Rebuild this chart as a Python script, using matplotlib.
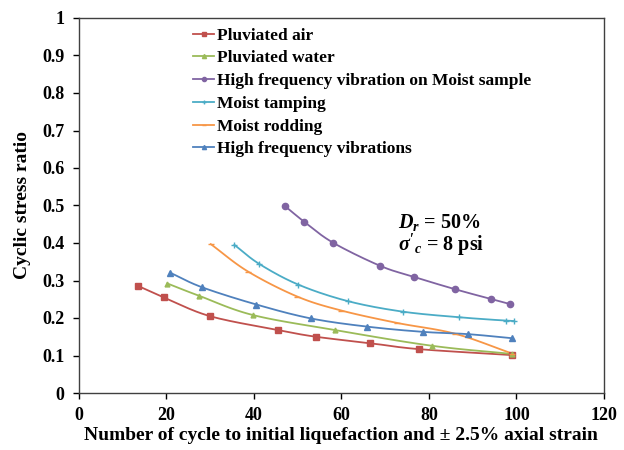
import numpy as np
import matplotlib
matplotlib.use("Agg")
import matplotlib.pyplot as plt

plt.rcParams['font.family'] = ['Liberation Serif', 'DejaVu Serif']
plt.rcParams['font.weight'] = 'bold'
plt.rcParams['mathtext.fontset'] = 'custom'
plt.rcParams['mathtext.rm'] = 'Liberation Serif:bold'
plt.rcParams['mathtext.it'] = 'Liberation Serif:italic:bold'
plt.rcParams['mathtext.bf'] = 'Liberation Serif:bold'

# ---- data ----
air_n = [13.7, 19.5, 30.0, 45.5, 54.2, 66.5, 77.7, 99.1]
air_csr = [0.285, 0.255, 0.205, 0.168, 0.150, 0.133, 0.117, 0.101]

water_n = [20.3, 27.6, 39.8, 58.5, 80.7, 99.1]
water_csr = [0.292, 0.259, 0.208, 0.168, 0.126, 0.104]

hfm_n = [47.1, 51.5, 58.1, 68.9, 76.5, 85.9, 94.1, 98.6]
hfm_csr = [0.499, 0.457, 0.401, 0.339, 0.310, 0.277, 0.251, 0.237]

tamp_n = [35.6, 41.3, 50.2, 61.5, 74.0, 86.9, 97.6, 99.5]
tamp_csr = [0.395, 0.344, 0.289, 0.245, 0.217, 0.202, 0.193, 0.192]

rod_n = [30.2, 38.7, 50.0, 60.0, 72.7, 86.0, 99.1]
rod_csr = [0.397, 0.324, 0.257, 0.220, 0.187, 0.158, 0.105]

hf_n = [20.9, 28.2, 40.6, 53.0, 65.9, 78.7, 88.9, 99.1]
hf_csr = [0.321, 0.282, 0.236, 0.199, 0.177, 0.163, 0.157, 0.146]

labels = ["Pluviated air", "Pluviated water",
          "High frequency vibration on Moist sample",
          "Moist tamping", "Moist rodding", "High frequency vibrations"]

x_ticks = [0, 20, 40, 60, 80, 100, 120]
y_ticks = [0, 0.1, 0.2, 0.3, 0.4, 0.5, 0.6, 0.7, 0.8, 0.9, 1]
y_tick_labels = ["0", "0.1", "0.2", "0.3", "0.4", "0.5", "0.6", "0.7", "0.8", "0.9", "1"]


def smooth(x, y, n=20):
    """Catmull-Rom curve through the given points (like Excel smoothed lines)."""
    p = np.column_stack([x, y]).astype(float)
    p = np.vstack([2 * p[0] - p[1], p, 2 * p[-1] - p[-2]])
    out = []
    t = np.linspace(0, 1, n, endpoint=False)[:, None]
    for i in range(1, len(p) - 2):
        p0, p1, p2, p3 = p[i - 1], p[i], p[i + 1], p[i + 2]
        seg = 0.5 * ((2 * p1) + (-p0 + p2) * t + (2 * p0 - 5 * p1 + 4 * p2 - p3) * t ** 2
                     + (-p0 + 3 * p1 - 3 * p2 + p3) * t ** 3)
        out.append(seg)
    out.append(p[-2][None, :])
    out = np.vstack(out)
    return out[:, 0], out[:, 1]


fig = plt.figure(figsize=(6.24, 4.5), dpi=100)
ax = fig.add_axes([78.5 / 624, 1 - 393 / 450, (604 - 78.5) / 624, 375 / 450])

series = [
    (air_n, air_csr, "#C0504D", "s", 5),
    (water_n, water_csr, "#9BBB59", "^", 3.5),
    (hfm_n, hfm_csr, "#8064A2", "o", 4.5),
    (tamp_n, tamp_csr, "#4BACC6", "+", 5),
    (rod_n, rod_csr, "#F79646", "_", 4),
    (hf_n, hf_csr, "#4F81BD", "^", 4),
]

for (xs, ys, c, m, ms), lab in zip(series, labels):
    sx, sy = smooth(xs, ys)
    ax.plot(sx, sy, color=c, lw=1.3, zorder=2)
    ax.plot(xs, ys, linestyle="none", marker=m, color=c, markersize=ms,
            markeredgewidth=1.0, zorder=3)
    ax.plot([], [], color=c, lw=1.3, marker=m, markersize=3, label=lab)

ax.set_xlim(0, 120)
ax.set_ylim(0, 1)
ax.set_xticks(x_ticks)
ax.set_xticklabels([str(v) for v in x_ticks])
ax.set_yticks(y_ticks)
ax.set_yticklabels(y_tick_labels)
ax.tick_params(direction="out", length=4, width=1, labelsize=13, pad=6)
for s in ax.spines.values():
    s.set_linewidth(1.0)
    s.set_color("#404040")

ax.set_xlabel("Number of cycle to initial liquefaction and \u00b1 2.5% axial strain",
              fontsize=14, fontweight="bold", labelpad=2)
ax.set_ylabel("Cyclic stress ratio", fontsize=14, fontweight="bold", labelpad=8)

leg = ax.legend(loc="upper left", bbox_to_anchor=(0.2, 1.0), frameon=False,
                fontsize=12.5, handlelength=1.2, handletextpad=0.2,
                labelspacing=0.38, borderaxespad=0.15)
for t in leg.get_texts():
    t.set_fontweight("bold")

ax.text(73, 0.455, r"$D_r$ = 50%", fontsize=14.5, fontweight="bold", ha="left", va="center")
ax.text(73, 0.395, r"$\sigma'_c$ = 8 psi", fontsize=14.5, fontweight="bold", ha="left", va="center")

fig.savefig("out.png", dpi=100)
